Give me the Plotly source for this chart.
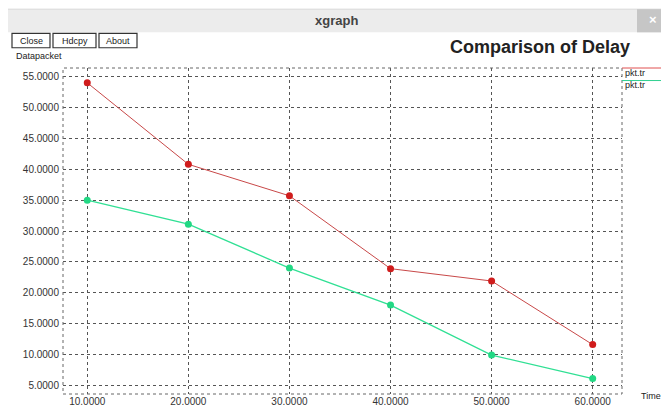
import plotly.graph_objects as go

x_vals = [10, 20, 30, 40, 50, 60]
red_vals = [54.0, 40.8, 35.7, 23.9, 21.9, 11.6]
green_vals = [35.0, 31.1, 24.0, 18.0, 9.9, 6.1]
y_ticks = [5, 10, 15, 20, 25, 30, 35, 40, 45, 50, 55]
legend_names = ["pkt.tr", "pkt.tr"]

OFF = 8  # page body margin
W, H = 669, 419
L, R, T, B = 63, 622, 68, 406

def px(x):
    return (x - L) / (R - L)

def py(y):
    return (B - y) / (B - T)

fig = go.Figure()
fig.add_trace(go.Scatter(x=x_vals, y=red_vals, mode="lines+markers", name=legend_names[0],
                         line=dict(color="#c84848", width=1),
                         marker=dict(color="#d01c1c", size=7)))
fig.add_trace(go.Scatter(x=x_vals, y=green_vals, mode="lines+markers", name=legend_names[1],
                         line=dict(color="#30e094", width=1.3),
                         marker=dict(color="#22d884", size=7)))

font_fam = "Liberation Sans, Arial, sans-serif"
fig.update_layout(
    width=W - OFF, height=H - OFF,
    margin=dict(l=L - OFF, r=W - R, t=T - OFF, b=H - B, pad=0),
    paper_bgcolor="white", plot_bgcolor="white",
    showlegend=False,
    font=dict(family=font_fam, size=10, color="#333"),
    xaxis=dict(range=[7.6, 62.9], tickvals=x_vals, tickformat=".4f",
               showgrid=True, gridcolor="#555", griddash="dot", gridwidth=1,
               zeroline=False, showline=False, ticks="", ticklabelstandoff=0,
               tickfont=dict(size=10, color="#333")),
    yaxis=dict(range=[3.6, 56.4], tickvals=y_ticks, tickformat=".4f",
               showgrid=True, gridcolor="#555", griddash="dot", gridwidth=1,
               zeroline=False, showline=False, ticks="", ticklabelstandoff=3,
               tickfont=dict(size=10, color="#333")),
)

shapes = []
shapes.append(dict(type="rect", xref="paper", yref="paper", x0=0, x1=1, y0=0, y1=1,
                   line=dict(color="#666", width=1, dash="dot")))
shapes.append(dict(type="rect", xref="paper", yref="paper", x0=px(0), x1=px(669),
                   y0=py(31), y1=py(7), fillcolor="#ececec", line=dict(width=0), layer="below"))
shapes.append(dict(type="line", xref="paper", yref="paper", x0=px(0), x1=px(669),
                   y0=py(7), y1=py(7), line=dict(color="#d8d8d8", width=1)))
shapes.append(dict(type="rect", xref="paper", yref="paper", x0=px(637), x1=px(669),
                   y0=py(31), y1=py(7), fillcolor="#c6c6c6", line=dict(width=0)))
shapes.append(dict(type="line", xref="paper", yref="paper", x0=px(666), x1=px(666),
                   y0=py(419), y1=py(31), line=dict(color="#999", width=1)))
for x0, x1 in [(12, 50), (53, 96), (99, 137)]:
    shapes.append(dict(type="rect", xref="paper", yref="paper", x0=px(x0), x1=px(x1),
                       y0=py(47), y1=py(32), line=dict(color="#333", width=1.2)))
shapes.append(dict(type="line", xref="paper", yref="paper", x0=px(622), x1=px(666),
                   y0=py(68), y1=py(68), line=dict(color="#e05050", width=1)))
shapes.append(dict(type="line", xref="paper", yref="paper", x0=px(622), x1=px(666),
                   y0=py(81), y1=py(81), line=dict(color="#30d090", width=1)))
fig.update_layout(shapes=shapes)

def ann(text, x, y, size, color="#222", xanchor="left", bold=False):
    fig.add_annotation(text=f"<b>{text}</b>" if bold else text, xref="paper", yref="paper",
                       x=px(x), y=py(y), xanchor=xanchor, yanchor="middle",
                       showarrow=False, font=dict(size=size, color=color, family=font_fam))

ann("xgraph", 336, 19, 13, color="#444", xanchor="center", bold=True)
ann("×", 653, 18, 13, color="white", xanchor="center", bold=True)
ann("Close", 31, 40, 9, xanchor="center")
ann("Hdcpy", 74.5, 40, 9, xanchor="center")
ann("About", 118, 40, 9, xanchor="center")
ann("<b>Comparison of Delay</b>", 540, 46, 18, color="#222", xanchor="center")
ann("Datapacket", 14, 56, 9)
ann(legend_names[0], 623, 73, 9)
ann(legend_names[1], 623, 86, 9)
ann("Time", 639, 408, 9)

fig.write_html("out.html")
